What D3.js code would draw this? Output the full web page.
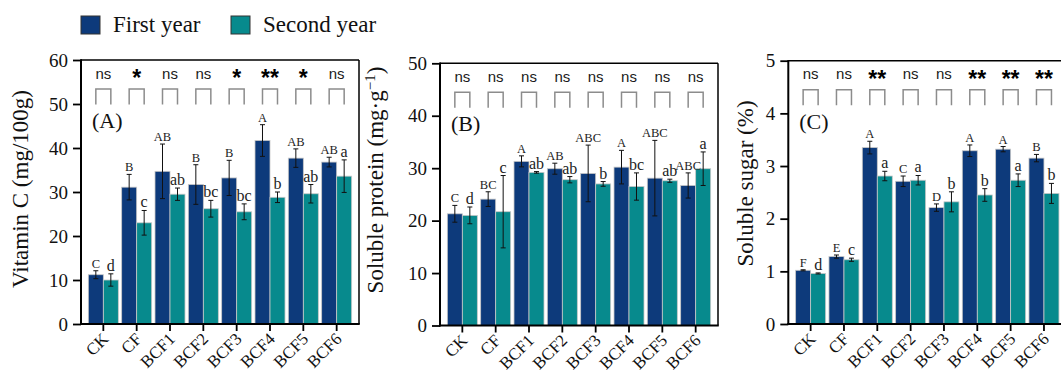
<!DOCTYPE html>
<html>
<head>
<meta charset="utf-8">
<script src="https://cdn.jsdelivr.net/npm/d3@7"></script>
<style>
  html, body { margin: 0; padding: 0; background: #fff; }
  svg { display: block; }
</style>
</head>
<body>
<svg id="chart" width="1061" height="373"></svg>
<script>
// ---------- DATA ----------
const categories = ["CK", "CF", "BCF1", "BCF2", "BCF3", "BCF4", "BCF5", "BCF6"];
const seriesNames = ["First year", "Second year"];

// (A) Vitamin C (mg/100g)
const vcFirst = [11.2, 31.1, 34.7, 31.7, 33.2, 41.7, 37.7, 36.8];
const vcFirstErr = [0.9, 2.9, 6.2, 4.5, 4.0, 3.6, 2.1, 1.1];
const vcSecond = [10.0, 23.0, 29.5, 26.2, 25.5, 28.8, 29.6, 33.6];
const vcSecondErr = [1.4, 2.8, 1.4, 1.9, 1.8, 1.2, 2.1, 3.7];
const vcFirstLetters = ["C", "B", "AB", "B", "B", "A", "AB", "AB"];
const vcSecondLetters = ["d", "c", "ab", "bc", "bc", "b", "ab", "a"];
const vcSig = ["ns", "*", "ns", "ns", "*", "**", "*", "ns"];
const vcTicks = [0, 10, 20, 30, 40, 50, 60];

// (B) Soluble protein (mg·g-1)
const spFirst = [21.3, 24.1, 31.3, 29.9, 29.0, 30.2, 28.1, 26.7];
const spFirstErr = [1.6, 1.4, 1.05, 1.05, 5.4, 3.2, 7.2, 2.4];
const spSecond = [21.0, 21.7, 29.2, 27.8, 27.0, 26.5, 27.6, 29.9];
const spSecondErr = [1.6, 6.9, 0.15, 0.6, 0.45, 2.6, 0.3, 3.2];
const spFirstLetters = ["C", "BC", "A", "AB", "ABC", "A", "ABC", "ABC"];
const spSecondLetters = ["d", "c", "ab", "ab", "b", "bc", "ab", "a"];
const spSig = ["ns", "ns", "ns", "ns", "ns", "ns", "ns", "ns"];
const spTicks = [0, 10, 20, 30, 40, 50];

// (C) Soluble sugar (%)
const ssFirst = [1.02, 1.28, 3.35, 2.71, 2.21, 3.29, 3.32, 3.15];
const ssFirstErr = [0.01, 0.03, 0.12, 0.10, 0.07, 0.11, 0.05, 0.07];
const ssSecond = [0.96, 1.22, 2.81, 2.73, 2.32, 2.45, 2.73, 2.48];
const ssSecondErr = [0.01, 0.03, 0.09, 0.09, 0.19, 0.12, 0.12, 0.19];
const ssFirstLetters = ["F", "E", "A", "C", "D", "A", "A", "B"];
const ssSecondLetters = ["d", "c", "a", "a", "b", "b", "a", "b"];
const ssSig = ["ns", "ns", "**", "ns", "ns", "**", "**", "**"];
const ssTicks = [0, 1, 2, 3, 4, 5];

// ---------- STYLE / LAYOUT ----------
const colors = ["#0d3a7b", "#078a8d"];
const serif = "'Liberation Serif', 'Times New Roman', serif";
const sans = "'Liberation Sans', Arial, sans-serif";

const panels = [
  { tag: "(A)", left: 81, top: 60, right: 359, bottom: 324, ticks: vcTicks,
    vals: [vcFirst, vcSecond], errs: [vcFirstErr, vcSecondErr],
    letters: [vcFirstLetters, vcSecondLetters], sig: vcSig,
    label: [{t: "Vitamin C (mg/100g)"}], labelX: 27.5, labelY: 189 },
  { tag: "(B)", left: 440, top: 63.3, right: 718, bottom: 325.5, ticks: spTicks,
    vals: [spFirst, spSecond], errs: [spFirstErr, spSecondErr],
    letters: [spFirstLetters, spSecondLetters], sig: spSig,
    label: [{t: "Soluble protein (mg·g"}, {t: "−1", sup: true}, {t: ")"}], labelX: 382.5, labelY: 180 },
  { tag: "(C)", left: 788.3, top: 60.7, right: 1066.3, bottom: 324, ticks: ssTicks,
    vals: [ssFirst, ssSecond], errs: [ssFirstErr, ssSecondErr],
    letters: [ssFirstLetters, ssSecondLetters], sig: ssSig,
    label: [{t: "Soluble sugar (%)"}], labelX: 752.5, labelY: 183.5 }
];

const svg = d3.select("#chart");

panels.forEach(p => {
  const g = svg.append("g");
  const y = d3.scaleLinear()
    .domain([d3.min(p.ticks), d3.max(p.ticks)])
    .range([p.bottom, p.top]);
  const x = d3.scaleBand()
    .domain(categories)
    .range([p.left + 5.67, p.right - 5.67])
    .paddingInner(0.1)
    .paddingOuter(0.05);
  const xs = d3.scaleBand().domain([0, 1]).range([0, x.bandwidth()]);

  // bars
  [0, 1].forEach(s => {
    g.append("g").selectAll("rect")
      .data(categories)
      .join("rect")
      .attr("x", (c) => x(c) + xs(s))
      .attr("width", xs.bandwidth())
      .attr("y", (c, i) => y(p.vals[s][i]))
      .attr("height", (c, i) => y(0) - y(p.vals[s][i]))
      .attr("fill", colors[s])
      .attr("stroke", "#c8c8c8")
      .attr("stroke-width", 0.8);
  });

  // error bars + letters
  [0, 1].forEach(s => {
    categories.forEach((c, i) => {
      const cx = x(c) + xs(s) + xs.bandwidth() / 2;
      const v = p.vals[s][i], e = p.errs[s][i];
      const y1 = y(v + e), y2 = y(v - e);
      g.append("line").attr("x1", cx).attr("x2", cx).attr("y1", y1).attr("y2", y2)
        .attr("stroke", "#111").attr("stroke-width", 1);
      g.append("line").attr("x1", cx - 2.5).attr("x2", cx + 2.5).attr("y1", y1).attr("y2", y1)
        .attr("stroke", "#111").attr("stroke-width", 1);
      g.append("line").attr("x1", cx - 2.5).attr("x2", cx + 2.5).attr("y1", y2).attr("y2", y2)
        .attr("stroke", "#111").attr("stroke-width", 1);
      const lt = p.letters[s][i];
      g.append("text")
        .attr("x", cx).attr("y", y1 - 3)
        .attr("text-anchor", "middle")
        .attr("font-family", serif)
        .attr("font-size", s === 0 ? 12.5 : 16)
        .attr("fill", "#222")
        .text(lt);
    });
  });

  // significance brackets and marks
  categories.forEach((c, i) => {
    const xa = x(c) + xs(0) + xs.bandwidth() / 2;
    const xb = x(c) + xs(1) + xs.bandwidth() / 2;
    const bt = p.top + 29, bb = p.top + 44.5;
    g.append("path")
      .attr("d", `M${xa},${bb}V${bt}H${xb}V${bb}`)
      .attr("fill", "none").attr("stroke", "#8c8c8c").attr("stroke-width", 1.5);
    const mark = p.sig[i];
    const isStar = mark !== "ns";
    g.append("text")
      .attr("x", (xa + xb) / 2)
      .attr("y", isStar ? p.top + 26 : p.top + 18.5)
      .attr("text-anchor", "middle")
      .attr("font-family", sans)
      .attr("font-weight", isStar ? "bold" : "normal")
      .attr("font-size", isStar ? 23 : 15)
      .attr("fill", isStar ? "#000" : "#1a1a1a")
      .text(mark);
  });

  // panel tag
  g.append("text")
    .attr("x", p.left + 11).attr("y", p.top + 68)
    .attr("font-family", serif).attr("font-size", 22).attr("fill", "#111")
    .text(p.tag);

  // y axis
  const ya = g.append("g")
    .attr("transform", `translate(${p.left},0)`)
    .call(d3.axisLeft(y).tickValues(p.ticks).tickFormat(d => String(d))
      .tickSize(8).tickSizeOuter(0).tickPadding(5));
  ya.select(".domain").remove();
  ya.selectAll(".tick line").attr("stroke", "#000").attr("stroke-width", 1.8);
  ya.selectAll(".tick text").attr("font-family", serif).attr("font-size", 19).attr("fill", "#111");

  // x axis
  const xa = g.append("g")
    .attr("transform", `translate(0,${p.bottom})`)
    .call(d3.axisBottom(x).tickSize(7).tickSizeOuter(0));
  xa.select(".domain").remove();
  xa.selectAll(".tick line").attr("stroke", "#000").attr("stroke-width", 1.8);
  xa.selectAll(".tick text")
    .attr("font-family", serif).attr("font-size", 17).attr("fill", "#111")
    .attr("text-anchor", "end")
    .attr("x", 0).attr("y", 0).attr("dy", 0)
    .attr("transform", "translate(6,16) rotate(-45)");

  // frame
  g.append("line").attr("x1", p.left).attr("x2", p.right).attr("y1", p.top).attr("y2", p.top)
    .attr("stroke", "#000").attr("stroke-width", 1.5);
  g.append("line").attr("x1", p.right).attr("x2", p.right).attr("y1", p.top).attr("y2", p.bottom)
    .attr("stroke", "#000").attr("stroke-width", 1.5);
  g.append("line").attr("x1", p.left).attr("x2", p.left).attr("y1", p.top - 0.75).attr("y2", p.bottom + 1)
    .attr("stroke", "#000").attr("stroke-width", 2);
  g.append("line").attr("x1", p.left - 1).attr("x2", p.right + 0.75).attr("y1", p.bottom).attr("y2", p.bottom)
    .attr("stroke", "#000").attr("stroke-width", 2);

  // y label
  const lab = g.append("text")
    .attr("transform", `translate(${p.labelX},${p.labelY}) rotate(-90)`)
    .attr("text-anchor", "middle")
    .attr("font-family", serif).attr("font-size", 23).attr("fill", "#111");
  p.label.forEach(part => {
    const ts = lab.append("tspan").text(part.t);
    if (part.sup) ts.attr("baseline-shift", "super").attr("font-size", 15);
  });
});

// legend
const legend = svg.append("g");
const legX = [81, 231];
seriesNames.forEach((n, i) => {
  legend.append("rect").attr("x", legX[i]).attr("y", 16).attr("width", 19).attr("height", 18)
    .attr("fill", colors[i]).attr("stroke", "#333").attr("stroke-width", 1);
  legend.append("text").attr("x", legX[i] + 32).attr("y", 32)
    .attr("font-family", serif).attr("font-size", 23).attr("fill", "#111")
    .text(n);
});
</script>
</body>
</html>
